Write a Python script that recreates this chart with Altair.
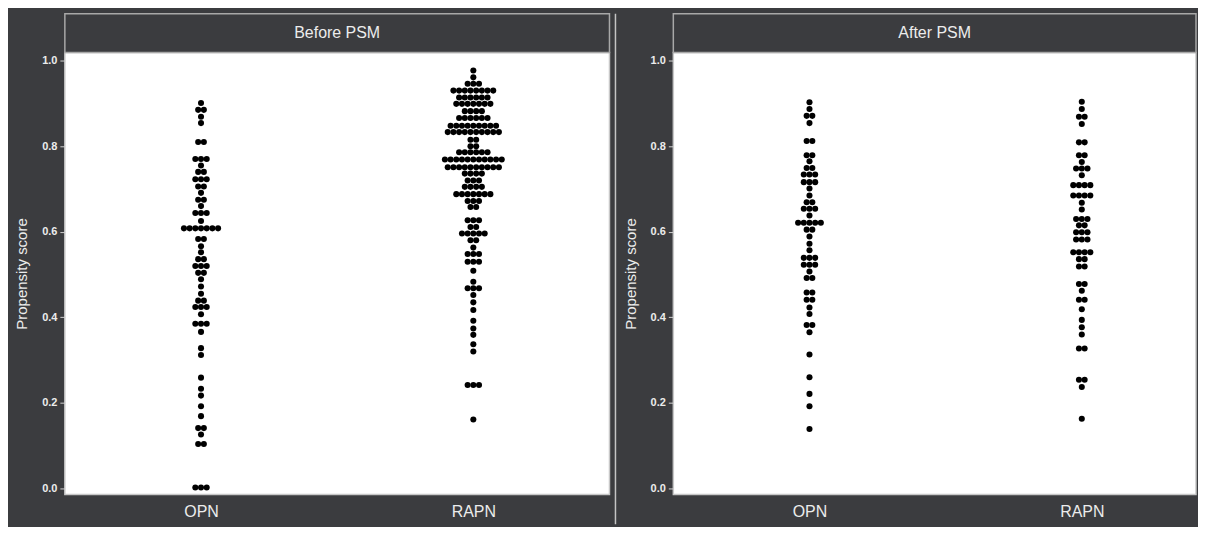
import altair as alt
import pandas as pd

panel_titles = ["Before PSM", "After PSM"]
group_names = ["OPN", "RAPN"]
y_ticks = [0.0, 0.2, 0.4, 0.6, 0.8, 1.0]

# binned propensity scores (row value) and number of dots in each row
before_opn_score = [0.901, 0.885, 0.869, 0.854, 0.810, 0.770, 0.755, 0.740, 0.723, 0.706,
                    0.691, 0.675, 0.660, 0.644, 0.625, 0.608, 0.583, 0.566, 0.552, 0.536,
                    0.520, 0.504, 0.489, 0.472, 0.455, 0.439, 0.424, 0.407, 0.385, 0.366,
                    0.328, 0.312, 0.259, 0.233, 0.217, 0.192, 0.169, 0.141, 0.126, 0.104,
                    0.002]
before_opn_count = [1, 2, 1, 1, 2, 3, 1, 2, 3, 2,
                    1, 2, 1, 3, 1, 7, 2, 1, 1, 2,
                    3, 2, 1, 1, 1, 2, 3, 1, 3, 1,
                    1, 1, 1, 1, 1, 1, 1, 2, 1, 2,
                    3]

before_rapn_score = [0.977, 0.961, 0.946, 0.930, 0.914, 0.899, 0.882, 0.866, 0.848, 0.833,
                     0.815, 0.800, 0.786, 0.769, 0.751, 0.736, 0.720, 0.705, 0.688, 0.672,
                     0.658, 0.627, 0.611, 0.596, 0.580, 0.563, 0.548, 0.530, 0.509, 0.483,
                     0.468, 0.452, 0.435, 0.417, 0.392, 0.374, 0.359, 0.337, 0.320, 0.242,
                     0.161]
before_rapn_count = [1, 1, 3, 8, 6, 7, 4, 6, 9, 10,
                     2, 2, 6, 11, 10, 4, 3, 4, 7, 3,
                     2, 3, 2, 5, 2, 1, 3, 3, 1, 1,
                     3, 1, 1, 1, 1, 1, 1, 1, 1, 3,
                     1]

after_opn_score = [0.903, 0.887, 0.871, 0.854, 0.812, 0.779, 0.765, 0.749, 0.734, 0.716,
                   0.701, 0.685, 0.669, 0.654, 0.638, 0.621, 0.605, 0.589, 0.572, 0.557,
                   0.539, 0.523, 0.507, 0.492, 0.458, 0.441, 0.423, 0.408, 0.382, 0.365,
                   0.313, 0.260, 0.221, 0.192, 0.139]
after_opn_count = [1, 1, 2, 1, 2, 2, 1, 2, 3, 3,
                   1, 1, 2, 3, 1, 5, 2, 1, 1, 1,
                   3, 3, 1, 2, 2, 2, 1, 1, 2, 1,
                   1, 1, 1, 1, 1]

after_rapn_score = [0.904, 0.887, 0.869, 0.852, 0.809, 0.779, 0.763, 0.748, 0.732, 0.709,
                    0.685, 0.668, 0.652, 0.630, 0.615, 0.599, 0.582, 0.552, 0.536, 0.519,
                    0.478, 0.462, 0.441, 0.419, 0.394, 0.377, 0.360, 0.327, 0.254, 0.237,
                    0.163]
after_rapn_count = [1, 1, 2, 1, 2, 2, 1, 3, 1, 4,
                    4, 1, 1, 3, 2, 3, 3, 4, 2, 2,
                    2, 1, 2, 1, 1, 1, 1, 2, 2, 1,
                    1]

series = [
    (panel_titles[0], 0, before_opn_score, before_opn_count),
    (panel_titles[0], 1, before_rapn_score, before_rapn_count),
    (panel_titles[1], 0, after_opn_score, after_opn_count),
    (panel_titles[1], 1, after_rapn_score, after_rapn_count),
]
rows = []
for panel, gi, scores, counts in series:
    for s, c in zip(scores, counts):
        for _ in range(c):
            rows.append({"panel": panel, "group": group_names[gi], "gi": gi, "score": s})
df = pd.DataFrame(rows)

DARK = "#3b3c3f"
BORDER = "#a8a8a8"
TEXT = "#ececec"
FONT = "Liberation Sans"
H = 443
HEAD = 39
PX_PER_UNIT = 546 / 2.0
DOT_STEP = 5.7 / PX_PER_UNIT

label_expr = f"datum.value < 0.5 ? '{group_names[0]}' : '{group_names[1]}'"


def panel(title, width, separator):
    xmax = -0.5 + width / PX_PER_UNIT
    dots = (
        alt.Chart(df[df.panel == title])
        .transform_joinaggregate(n="count()", groupby=["gi", "score"])
        .transform_window(r="row_number()", groupby=["gi", "score"])
        .transform_calculate(xp=f"datum.gi + (datum.r - (datum.n + 1) / 2) * {DOT_STEP}")
        .mark_circle(size=37, color="black", opacity=1)
        .encode(
            x=alt.X("xp:Q", scale=alt.Scale(domain=[-0.5, xmax], nice=False, zero=False),
                    axis=alt.Axis(values=[0, 1], labelExpr=label_expr, title=None, ticks=False,
                                  domain=False, grid=False, labelColor=TEXT, labelFontSize=16,
                                  labelFont=FONT, labelPadding=9)),
            y=alt.Y("score:Q", scale=alt.Scale(domain=[-0.014, 1.019], nice=False, zero=False),
                    axis=alt.Axis(values=y_ticks, format=".1f", title="Propensity score",
                                  grid=False, domain=False, tickColor="#d0d0d0", tickSize=5,
                                  labelPadding=3, labelFontSize=11, labelFontWeight="bold",
                                  labelColor=TEXT, labelFont=FONT, titleFont=FONT,
                                  titleFontSize=15, titleFontWeight="normal", titleColor=TEXT,
                                  titlePadding=7, minExtent=28, maxExtent=28)),
        )
    )
    tdf = pd.DataFrame({"title": [title]})
    head = alt.Chart(tdf).mark_rect(fill=DARK, stroke=BORDER, strokeWidth=1.5).encode(
        x=alt.value(0), x2=alt.value(width), y=alt.value(-HEAD), y2=alt.value(0))
    head_text = alt.Chart(tdf).mark_text(color=TEXT, fontSize=16, font=FONT, baseline="middle").encode(
        x=alt.value(width / 2), y=alt.value(-HEAD / 2), text="title:N")
    layers = [head, head_text, dots]
    if separator:
        sep = alt.Chart(tdf).mark_rule(color="#c4c4c4", strokeWidth=1.5).encode(
            x=alt.value(-58), y=alt.value(-HEAD), y2=alt.value(H + 30))
        layers.append(sep)
    return alt.layer(*layers).properties(width=width, height=H)


chart = (
    alt.hconcat(panel(panel_titles[0], 546, False), panel(panel_titles[1], 524, True), spacing=2)
    .properties(background=DARK, padding={"left": 6, "top": 3, "right": 0, "bottom": 0})
    .configure_view(fill="white", stroke="#c8c8c8", strokeWidth=1.5)
)

chart.save("out.html", embed_options={"renderer": "svg", "actions": False})
